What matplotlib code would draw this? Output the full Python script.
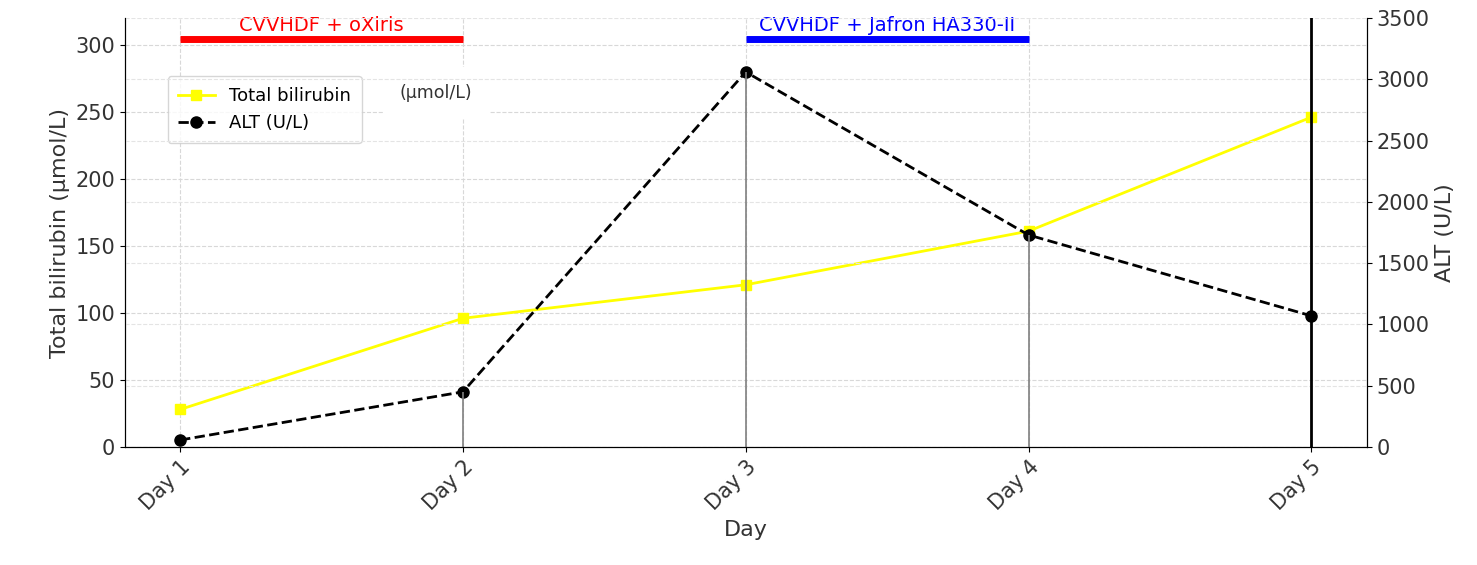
import matplotlib
matplotlib.use("Agg")
import matplotlib.pyplot as plt

days = ["Day 1", "Day 2", "Day 3", "Day 4", "Day 5"]
bilirubin = [28, 96, 121, 161, 246]
alt = [57, 450, 3060, 1730, 1070]
x = [1, 2, 3, 4, 5]

fig = plt.figure(figsize=(14.77, 5.65), dpi=100)
ax = fig.add_axes([125/1477, 1-447/565, (1367-125)/1477, (447-18)/565])
ax2 = ax.twinx()

ax.set_xlim(0.805, 5.197)
ax.set_ylim(0, 320)
ax2.set_ylim(0, 3500)

ax.grid(True, linestyle='--', color='#d8d8d8', linewidth=0.8)
ax2.grid(True, axis='y', linestyle='--', color='#e4e4e4', linewidth=0.8)

l1, = ax.plot(x, bilirubin, color='yellow', marker='s', markersize=7, linewidth=2, label='Total bilirubin')
l2, = ax2.plot(x, alt, color='black', linestyle='--', marker='o', markersize=8, linewidth=2, label='ALT (U/L)')

for xi, ai in zip(x[1:4], alt[1:4]):
    ax2.vlines(xi, 0, ai, color='grey', linewidth=1.2)
ax2.axvline(5, color='black', linewidth=2)

ax.hlines(304, 1, 2, color='red', linewidth=5)
ax.text(1.5, 307, "CVVHDF + oXiris", color='red', ha='center', va='bottom', fontsize=14)
ax.hlines(304, 3, 4, color='blue', linewidth=5)
ax.text(3.5, 307, "CVVHDF + Jafron HA330-II", color='blue', ha='center', va='bottom', fontsize=14)

tc = '#333333'
ax.set_xticks(x)
ax.set_xticklabels(days, rotation=45, ha='right', rotation_mode='anchor', fontsize=15, color=tc)
ax.tick_params(axis='y', labelsize=15, labelcolor=tc)
ax2.tick_params(axis='y', labelsize=15, labelcolor=tc)
ax.set_xlabel("Day", fontsize=16, color=tc)
ax.set_ylabel("Total bilirubin (μmol/L)", fontsize=16, color=tc)
ax2.set_ylabel("ALT (U/L)", fontsize=16, color=tc)
ax.spines['top'].set_visible(False); ax2.spines['top'].set_visible(False)

leg = ax.legend(handles=[l1, l2], loc='upper left', bbox_to_anchor=(0.027, 0.885), fontsize=13,
                frameon=True, borderpad=0.6)
ax.text(0.221, 0.825, "(μmol/L)", transform=ax.transAxes, fontsize=12.5, va='center',
        bbox=dict(facecolor='white', edgecolor='none', pad=12), zorder=10, color=tc)

fig.savefig("out.png", dpi=100)
